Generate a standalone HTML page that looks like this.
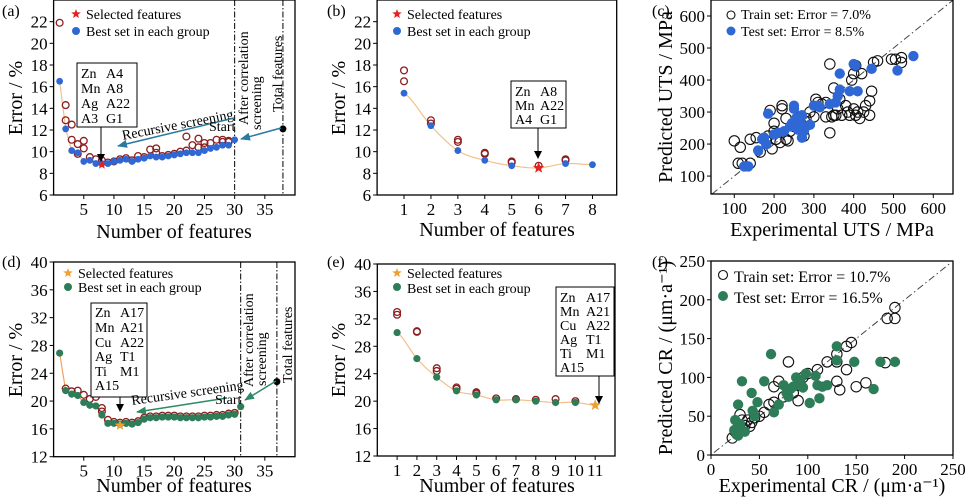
<!DOCTYPE html>
<html><head><meta charset="utf-8"><style>
html,body{margin:0;padding:0;background:#fff;}
svg{display:block;font-family:"Liberation Serif",serif;}
.tk{font-size:17px;}
.ax{font-size:20px;}
.lg{font-size:14px;}
</style></head><body>
<svg id="s" width="969" height="500" viewBox="0 0 969 500" xmlns="http://www.w3.org/2000/svg">
<defs>
<marker id="ab" markerWidth="8" markerHeight="8" refX="7" refY="4" orient="auto" markerUnits="userSpaceOnUse"><path d="M0,0 L8,4 L0,8 z" fill="#000"/></marker>
<marker id="at" markerWidth="10" markerHeight="8" refX="9" refY="4" orient="auto" markerUnits="userSpaceOnUse"><path d="M0,0 L10,4 L0,8 z" fill="#2a7aa0"/></marker>
<marker id="ag" markerWidth="10" markerHeight="8" refX="9" refY="4" orient="auto" markerUnits="userSpaceOnUse"><path d="M0,0 L10,4 L0,8 z" fill="#2e8a66"/></marker>
</defs>
<g id="g"></g>
<text x="2" y="16" font-size="16">(a)</text>
<text x="327" y="16" font-size="16">(b)</text>
<text x="652" y="16" font-size="16">(c)</text>
<text x="2" y="267" font-size="16">(d)</text>
<text x="327" y="267" font-size="16">(e)</text>
<text x="652" y="267" font-size="16">(f)</text>
<text class="ax" x="174" y="238" text-anchor="middle">Number of features</text>
<text class="ax" x="497" y="236" text-anchor="middle">Number of features</text>
<text class="ax" x="832" y="236" text-anchor="middle">Experimental UTS / MPa</text>
<text class="ax" x="174" y="492" text-anchor="middle">Number of features</text>
<text class="ax" x="497" y="492" text-anchor="middle">Number of features</text>
<text class="ax" x="832" y="492" text-anchor="middle">Experimental CR / (μm·a⁻¹)</text>
<text class="ax" transform="translate(22,98) rotate(-90)" text-anchor="middle">Error / %</text>
<text class="ax" transform="translate(345,98) rotate(-90)" text-anchor="middle">Error / %</text>
<text class="ax" transform="translate(672,97) rotate(-90)" text-anchor="middle">Predicted UTS / MPa</text>
<text class="ax" transform="translate(22,360) rotate(-90)" text-anchor="middle">Error / %</text>
<text class="ax" transform="translate(345,360) rotate(-90)" text-anchor="middle">Error / %</text>
<text class="ax" transform="translate(672,358) rotate(-90)" text-anchor="middle">Predicted CR / (μm·a⁻¹)</text>
<text class="lg" x="86" y="19">Selected features</text><text class="lg" x="86" y="36">Best set in each group</text>
<text class="lg" x="407" y="19">Selected features</text><text class="lg" x="407" y="36">Best set in each group</text>
<text class="lg" x="741" y="19">Train set: Error = 7.0%</text><text class="lg" x="741" y="36">Test set: Error = 8.5%</text>
<text class="lg" x="78" y="278">Selected features</text><text class="lg" x="78" y="292">Best set in each group</text>
<text class="lg" x="407" y="278">Selected features</text><text class="lg" x="407" y="293">Best set in each group</text>
<text x="734" y="282" font-size="16">Train set: Error = 10.7%</text><text x="734" y="303" font-size="16">Test set: Error = 16.5%</text>
<rect x="77" y="63" width="60" height="64" fill="#fff" stroke="#000" stroke-width="1"/>
<text class="lg" x="81" y="78">Zn</text><text class="lg" x="106" y="78">A4</text>
<text class="lg" x="81" y="93">Mn</text><text class="lg" x="106" y="93">A8</text>
<text class="lg" x="81" y="108">Ag</text><text class="lg" x="106" y="108">A22</text>
<text class="lg" x="81" y="123">A3</text><text class="lg" x="106" y="123">G1</text>
<line x1="101" y1="127" x2="101" y2="161" stroke="#000" marker-end="url(#ab)"/>
<rect x="511" y="81" width="55" height="47" fill="#fff" stroke="#000"/>
<text class="lg" x="515" y="96">Zn</text><text class="lg" x="540" y="96">A8</text>
<text class="lg" x="515" y="110">Mn</text><text class="lg" x="540" y="110">A22</text>
<text class="lg" x="515" y="124">A4</text><text class="lg" x="540" y="124">G1</text>
<line x1="538" y1="128" x2="538" y2="158" stroke="#000" marker-end="url(#ab)"/>
<rect x="91" y="303" width="56" height="94" fill="#fff" stroke="#000"/>
<text class="lg" x="95" y="317">Zn</text><text class="lg" x="120" y="317">A17</text>
<text class="lg" x="95" y="332">Mn</text><text class="lg" x="120" y="332">A21</text>
<text class="lg" x="95" y="347">Cu</text><text class="lg" x="120" y="347">A22</text>
<text class="lg" x="95" y="361">Ag</text><text class="lg" x="120" y="361">T1</text>
<text class="lg" x="95" y="376">Ti</text><text class="lg" x="120" y="376">M1</text>
<text class="lg" x="95" y="390">A15</text>
<line x1="120" y1="397" x2="120" y2="411" stroke="#000" marker-end="url(#ab)"/>
<rect x="556" y="287" width="58" height="89" fill="#fff" stroke="#000"/>
<text class="lg" x="560" y="302">Zn</text><text class="lg" x="586" y="302">A17</text>
<text class="lg" x="560" y="316">Mn</text><text class="lg" x="586" y="316">A21</text>
<text class="lg" x="560" y="330">Cu</text><text class="lg" x="586" y="330">A22</text>
<text class="lg" x="560" y="344">Ag</text><text class="lg" x="586" y="344">T1</text>
<text class="lg" x="560" y="358">Ti</text><text class="lg" x="586" y="358">M1</text>
<text class="lg" x="560" y="372">A15</text>
<line x1="599" y1="376" x2="599" y2="403" stroke="#000" marker-end="url(#ab)"/>
<text class="lg" transform="translate(123,140) rotate(-11)">Recursive screening</text>
<line x1="234" y1="118" x2="118" y2="146" stroke="#2a7aa0" stroke-width="1.5" marker-end="url(#at)"/>
<text font-size="14" x="209" y="131">Start</text>
<line x1="281" y1="128" x2="241" y2="139" stroke="#2a7aa0" stroke-width="1.5" marker-end="url(#at)"/>
<text class="lg" transform="translate(248,125) rotate(-90)">After correlation</text>
<text class="lg" transform="translate(261,130) rotate(-90)">screening</text>
<text class="lg" transform="translate(282,112) rotate(-90)">Total features</text>
<text class="lg" transform="translate(132,405) rotate(-8)">Recursive screening</text>
<line x1="227" y1="398" x2="137" y2="412" stroke="#2e8a66" stroke-width="1.5" marker-end="url(#ag)"/>
<text font-size="14" x="215" y="404">Start</text>
<line x1="276" y1="381" x2="245" y2="400" stroke="#2e8a66" stroke-width="1.5" marker-end="url(#ag)"/>
<text class="lg" transform="translate(253,387) rotate(-90)">After correlation</text>
<text class="lg" transform="translate(266,386) rotate(-90)">screening</text>
<text class="lg" transform="translate(292,383) rotate(-90)">Total features</text>
</svg>
<script>
const NS="http://www.w3.org/2000/svg",G=document.getElementById('g');
function el(t,a){const e=document.createElementNS(NS,t);for(const k in a)e.setAttribute(k,a[k]);G.appendChild(e);return e;}
function txt(x,y,s,anc){const e=el('text',{x:x,y:y,'class':'tk','text-anchor':anc});e.textContent=s;}
function P(x0,x1,y0,y1,X0,X1,Y0,Y1){return{fx:v=>x0+(v-X0)/(X1-X0)*(x1-x0),fy:v=>y1-(v-Y0)/(Y1-Y0)*(y1-y0),x0,x1,y0,y1};}
function frame(p,xt,yt){
 xt.forEach(v=>{const x=p.fx(v);el('line',{x1:x,y1:p.y1,x2:x,y2:p.y1+4,stroke:'#000'});txt(x,p.y1+20,String(v),'middle');});
 yt.forEach(v=>{const y=p.fy(v);el('line',{x1:p.x0-4,y1:y,x2:p.x0,y2:y,stroke:'#000'});txt(p.x0-6,y+6,String(v),'end');});
}
function box(p){el('rect',{x:p.x0,y:p.y0,width:p.x1-p.x0,height:p.y1-p.y0,fill:'none',stroke:'#000','stroke-width':1.3});}
function dot(x,y,r,c){el('circle',{cx:x,cy:y,r:r,fill:c});}
function ring(x,y,r,c,w){el('circle',{cx:x,cy:y,r:r,fill:'none',stroke:c,'stroke-width':w||1.3});}
function star(x,y,r,c){let d='';for(let i=0;i<10;i++){const a=-Math.PI/2+i*Math.PI/5,rr=i%2?r*0.42:r;d+=(i?'L':'M')+(x+rr*Math.cos(a)).toFixed(1)+','+(y+rr*Math.sin(a)).toFixed(1);}el('path',{d:d+'Z',fill:c});}
function vline(p,v){const x=p.fx(v);el('line',{x1:x,y1:p.y0,x2:x,y2:p.y1,stroke:'#000','stroke-dasharray':'6,2,1.5,2'});}
function smooth(pts,c){let d='M'+pts[0];for(let i=1;i<pts.length;i++)d+='L'+pts[i];el('path',{d,fill:'none',stroke:c,'stroke-width':1.2});}
const RED='#8b1e1e';
let a=P(53.6,295,0,195,0,40,6,24.0);
{const B=[16.5,12.1,10.1,9.9,9.1,9.2,8.9,8.9,8.9,9.1,9.2,9.3,9.1,9.3,9.4,9.6,9.5,9.5,9.6,9.7,9.8,9.9,9.9,9.9,10.1,10.3,10.4,10.6,10.6,11.1];
const R=[[1,21.9],[2,14.3],[2,12.9],[3,12.5],[3,11.1],[4,10.7],[4,9.8],[5,11.0],[5,10.3],[6,9.5],[7,9.3],[8,9.2],[9,9.0],[10,9.1],[11,9.3],[12,9.4],[13,9.2],[14,9.6],[15,9.5],[16,10.2],[17,10.3],[17,9.9],[18,9.6],[19,9.7],[20,9.8],[21,10.0],[22,11.4],[22,10.1],[23,10.6],[24,11.2],[24,10.4],[25,10.8],[25,10.4],[26,10.8],[27,11.1],[28,11.1],[28,10.9],[29,11.0],[29,10.9]];
smooth(B.map((v,i)=>a.fx(i+1).toFixed(1)+','+a.fy(v).toFixed(1)),'#f2c08c');
vline(a,30);vline(a,38);
R.forEach(p=>ring(a.fx(p[0]),a.fy(p[1]),3.4,RED));
B.forEach((v,i)=>dot(a.fx(i+1),a.fy(v),3.4,'#2f68d4'));
star(a.fx(8),a.fy(8.8),5,'#e52222');dot(a.fx(38),a.fy(12.1),3.5,'#000');
star(76,14,5,'#e52222');dot(76,31,4,'#2f68d4');
box(a);frame(a,[5,10,15,20,25,30,35],[6,8,10,12,14,16,18,20,22]);}
let b=P(377.1,616.7,0,195,0,8.9,6,24.0);
{const B=[15.4,12.4,10.1,9.2,8.7,8.5,8.9,8.8];
const R=[[1,17.5],[1,16.5],[2,12.9],[2,12.6],[3,11.1],[3,10.9],[4,9.9],[4,9.8],[5,9.1],[5,9.0],[6,8.7],[7,9.3],[7,9.2]];
let pts=[];for(let t=1;t<=8;t+=0.1){const i=Math.min(6,Math.floor(t-1)),f=t-1-i;const p0=B[Math.max(0,i-1)],p1=B[i],p2=B[i+1],p3=B[Math.min(7,i+2)];const v=0.5*((2*p1)+(-p0+p2)*f+(2*p0-5*p1+4*p2-p3)*f*f+(-p0+3*p1-3*p2+p3)*f*f*f);pts.push(b.fx(t).toFixed(1)+','+b.fy(v).toFixed(1));}
smooth(pts,'#f2c08c');
R.forEach(p=>ring(b.fx(p[0]),b.fy(p[1]),3.4,RED));
B.forEach((v,i)=>{if(i!=5)dot(b.fx(i+1),b.fy(v),3.4,'#2f68d4');});
star(b.fx(6),b.fy(8.5),6,'#e52222');
star(397,14,5,'#e52222');dot(397,31,4,'#2f68d4');
box(b);frame(b,[1,2,3,4,5,6,7,8],[6,8,10,12,14,16,18,20,22]);}
let c=P(711,953,0,194,41.5,649.5,44,650);
{el('line',{x1:c.fx(44),y1:c.fy(44),x2:c.fx(649),y2:c.fy(649),stroke:'#444','stroke-dasharray':'7,3,1.5,3'});
const T=[[100,210],[115,190],[110,140],[120,140],[140,140],[140,215],[155,220],[165,175],[180,210],[185,225],[190,305],[195,185],[200,265],[200,240],[205,215],[215,205],[220,320],[220,310],[230,280],[230,215],[235,210],[240,240],[250,255],[255,270],[265,285],[270,260],[275,225],[280,280],[290,300],[300,285],[305,340],[310,330],[320,325],[330,330],[340,450],[340,235],[345,285],[350,375],[355,290],[360,310],[365,340],[370,290],[380,320],[385,300],[390,290],[395,400],[400,420],[400,310],[405,290],[410,300],[415,280],[420,420],[425,300],[430,320],[440,335],[440,290],[445,365],[450,455],[460,460],[495,465],[505,465],[520,470],[520,455],[350,290],[405,445],[330,285]];
const S=[[125,130],[135,130],[160,180],[170,215],[175,220],[180,200],[185,295],[200,230],[210,235],[225,240],[240,255],[245,265],[250,310],[250,320],[255,260],[260,245],[265,270],[270,220],[270,290],[280,255],[290,260],[300,320],[310,320],[315,315],[340,325],[355,330],[360,350],[365,370],[365,420],[390,365],[400,450],[405,445],[410,365],[445,435],[510,430],[550,475],[265,250],[275,240],[255,280]];
T.forEach(p=>ring(c.fx(p[0]),c.fy(p[1]),5.2,'#111',1.1));
S.forEach(p=>dot(c.fx(p[0]),c.fy(p[1]),5.2,'#2f68d4'));
ring(731,15,4,'#111',1.1);dot(731,31,4.5,'#2f68d4');
box(c);frame(c,[100,200,300,400,500,600],[100,200,300,400,500,600]);}
let d=P(53.6,295,262,456.7,0,40,12,40);
{const B=[26.9,21.5,21.0,20.8,19.8,19.4,19.3,18.0,16.8,16.8,16.7,16.8,16.7,16.9,17.4,17.6,17.6,17.7,17.7,17.7,17.6,17.6,17.6,17.6,17.7,17.7,17.8,17.8,18.0,18.1,19.2];
const R=[[2,21.8],[3,21.4],[4,21.5],[5,20.9],[6,20.3],[7,20.6],[8,19.0],[8,18.5],[9,17.3],[10,17.0],[11,16.9],[12,17.0],[13,16.9],[14,17.1]];for(let i=15;i<=30;i++)R.push([i,B[i-1]+0.2]);
smooth(B.map((v,i)=>d.fx(i+1).toFixed(1)+','+d.fy(v).toFixed(1)),'#f2a060');
vline(d,31);vline(d,37);
R.forEach(p=>ring(d.fx(p[0]),d.fy(p[1]),3.4,RED));
B.forEach((v,i)=>dot(d.fx(i+1),d.fy(v),3.6,'#2e7d59'));
star(d.fx(11),d.fy(16.5),5.5,'#f0a030');dot(d.fx(37),d.fy(22.8),3.5,'#000');
star(68,273,5,'#f0a030');dot(68,287,4,'#2e7d59');
box(d);frame(d,[5,10,15,20,25,30,35],[12,16,20,24,28,32,36,40]);}
let e=P(377.3,615,264,456,0,12,12,40);
{const B=[30,26.2,23.5,21.5,20.9,20.2,20.2,20.0,19.8,19.8,19.4];
const R=[[1,33],[1,32.6],[2,30.2],[2,30.1],[3,24.8],[3,24.4],[4,22],[4,21.8],[5,21.3],[5,21.1],[6,20.4],[7,20.3],[8,20.2],[9,20.3],[10,20.0]];
let pts=[];for(let t=1;t<=11;t+=0.1){const n=B.length,i=Math.min(n-2,Math.floor(t-1)),f=t-1-i;const p0=B[Math.max(0,i-1)],p1=B[i],p2=B[i+1],p3=B[Math.min(n-1,i+2)];const v=0.5*((2*p1)+(-p0+p2)*f+(2*p0-5*p1+4*p2-p3)*f*f+(-p0+3*p1-3*p2+p3)*f*f*f);pts.push(e.fx(t).toFixed(1)+','+e.fy(v).toFixed(1));}
smooth(pts,'#f2c08c');
R.forEach(p=>ring(e.fx(p[0]),e.fy(p[1]),3.4,RED));
B.slice(0,10).forEach((v,i)=>dot(e.fx(i+1),e.fy(v),3.6,'#2e7d59'));
star(e.fx(11),e.fy(19.4),6,'#f0a030');
star(397,273,5,'#f0a030');dot(397,287,4,'#2e7d59');
box(e);frame(e,[1,2,3,4,5,6,7,8,9,10,11],[12,16,20,24,28,32,36,40]);}
let f=P(711,953,261,455,0,250,0,250);
{el('line',{x1:f.fx(3),y1:f.fy(3),x2:f.fx(248),y2:f.fy(248),stroke:'#444','stroke-dasharray':'7,3,1.5,3'});
const T=[[22,22],[25,30],[28,35],[30,52],[32,45],[35,38],[38,45],[40,37],[45,48],[50,50],[55,55],[60,65],[65,88],[65,68],[70,95],[75,75],[80,120],[85,80],[90,70],[90,90],[95,100],[100,105],[110,110],[120,120],[130,95],[130,120],[130,130],[133,84],[140,110],[140,140],[145,145],[150,88],[160,93],[180,119],[182,176],[190,176],[190,190],[27,27],[33,33],[42,42]];
const S=[[25,45],[27,35],[28,25],[28,65],[30,30],[32,95],[35,30],[42,80],[43,57],[45,50],[48,68],[55,95],[62,130],[65,55],[70,65],[75,90],[78,80],[80,75],[82,85],[85,88],[88,100],[92,97],[95,87],[98,105],[102,67],[108,102],[110,90],[112,73],[115,88],[120,90],[130,140],[130,122],[148,120],[168,85],[175,120],[190,120],[26,28],[30,40],[24,32]];
T.forEach(p=>ring(f.fx(p[0]),f.fy(p[1]),5.2,'#111',1.1));
S.forEach(p=>dot(f.fx(p[0]),f.fy(p[1]),5.2,'#2e7d59'));
ring(723,275,4.5,'#111',1.1);dot(723,296,5,'#2e7d59');
box(f);frame(f,[0,50,100,150,200,250],[0,50,100,150,200,250]);}
</script>
</body></html>
